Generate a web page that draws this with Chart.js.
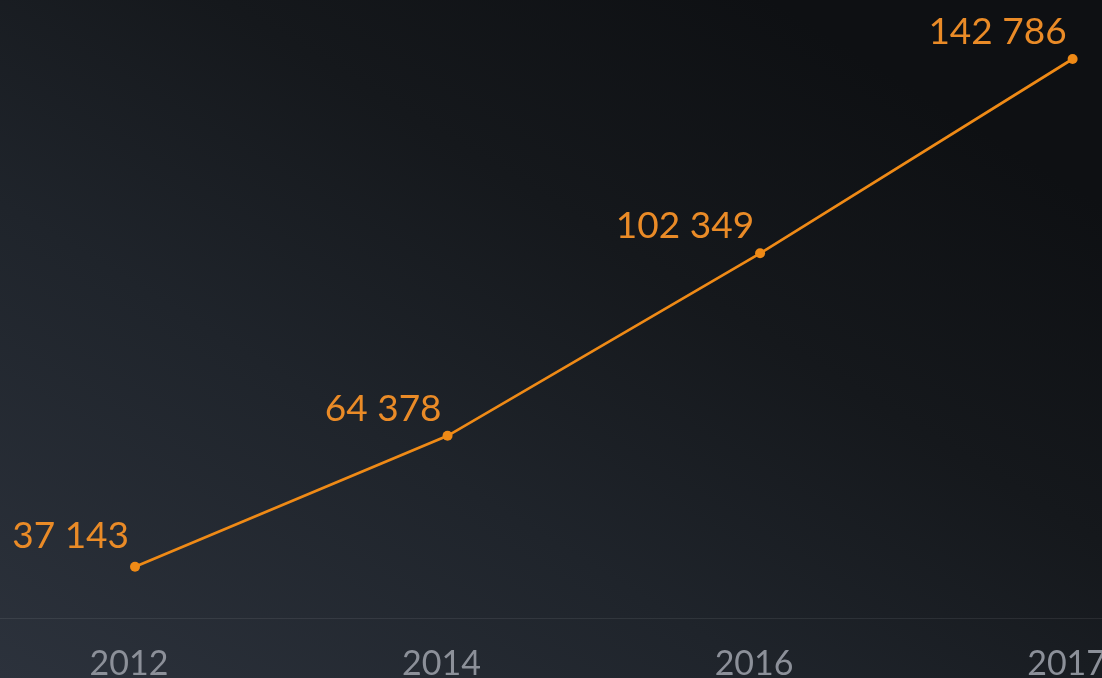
<!DOCTYPE html>
<html>
<head>
<meta charset="utf-8">
<script src="https://cdn.jsdelivr.net/npm/chart.js@4.4.1/dist/chart.umd.min.js"></script>
<style>
  html, body { margin: 0; padding: 0; }
  body {
    width: 1102px; height: 678px; overflow: hidden;
    background: linear-gradient(to top right, #2c323c 0%, #1f242b 35%, #15181c 60%, #0e1013 85%);
  }
  #wrap { position: relative; width: 1102px; height: 678px; }
</style>
</head>
<body>
<div id="wrap"><canvas id="canvasGrowth"></canvas></div>
<script>
// data
const years = ["2012", "2014", "2016", "2017"];
const values = [37143, 64378, 102349, 142786];
const valueLabels = ["37 143", "64 378", "102 349", "142 786"];

const orange = "#ef8a16";

const pointLabels = {
    id: 'pointLabels',
    afterDatasetsDraw(chart) {
        const ctx = chart.ctx;
        const meta = chart.getDatasetMeta(0);
        ctx.save();
        ctx.font = "400 37px Lato";
        ctx.fillStyle = "#ea8b27";
        ctx.textAlign = "right";
        ctx.textBaseline = "alphabetic";
        meta.data.forEach(function (pt, i) {
            ctx.fillText(valueLabels[i], pt.x - 6, pt.y - (i === 0 ? 19 : 15));
        });
        ctx.restore();
    }
};

function drawGrowth()
{
    const ctx = document.getElementById("canvasGrowth").getContext("2d");

    new Chart(ctx, {
        type: 'line',
        data: {
            datasets: [{
                data: values.map((v, i) => ({ x: i, y: v })),
                borderColor: orange,
                backgroundColor: orange,
                borderWidth: 2.7,
                pointRadius: 5,
                pointBorderWidth: 0,
                tension: 0,
                clip: false
            }]
        },
        options: {
            responsive: false,
            animation: false,
            layout: { padding: 0, autoPadding: false },
            plugins: {
                legend: { display: false },
                tooltip: { enabled: false }
            },
            scales: {
                x: {
                    type: 'linear',
                    min: -0.432,
                    max: 3.094,
                    afterBuildTicks: s => { s.ticks = years.map((_, i) => ({ value: i })); },
                    afterFit: s => { s.height = 60; s.paddingLeft = 0; s.paddingRight = 0; },
                    grid: { display: false, drawTicks: false },
                    border: { display: true, color: 'rgba(255,255,255,0.08)', dash: [2, 4], width: 1 },
                    ticks: {
                        callback: v => years[v],
                        color: '#8c9099',
                        font: { family: 'Lato', size: 34 },
                        padding: 26,
                        labelOffset: -6,
                        maxRotation: 0,
                        autoSkip: false
                    }
                },
                y: {
                    display: false,
                    min: 26468,
                    max: 155063
                }
            }
        },
        plugins: [pointLabels]
    });
}

const cv = document.getElementById("canvasGrowth");
cv.width = 1102;
cv.height = 678;
drawGrowth();
</script>
</body>
</html>
